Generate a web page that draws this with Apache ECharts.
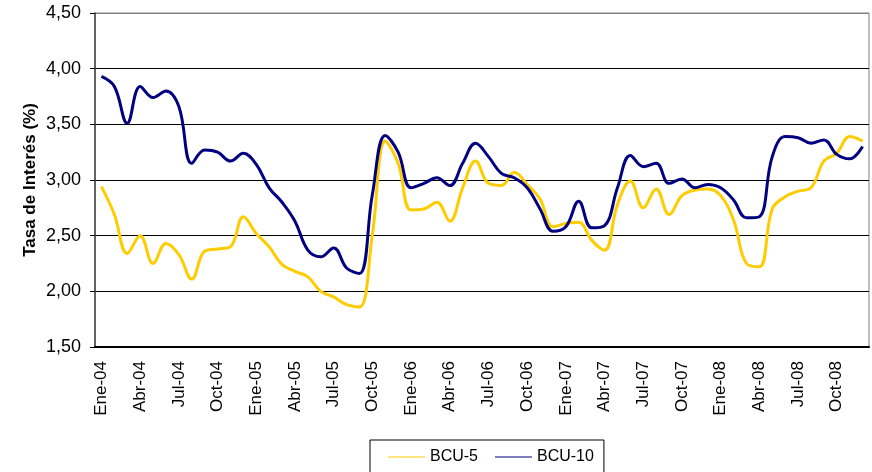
<!DOCTYPE html>
<html>
<head>
<meta charset="utf-8">
<script src="https://cdn.jsdelivr.net/npm/echarts@6/dist/echarts.min.js"></script>
<style>
  html, body { margin: 0; padding: 0; background: #fff; }
  #chart { width: 872px; height: 472px; }
</style>
</head>
<body>
<div id="chart"></div>
<script>
// months and years for the category axis
const monthNames = ['Ene', 'Feb', 'Mar', 'Abr', 'May', 'Jun', 'Jul', 'Ago', 'Sep', 'Oct', 'Nov', 'Dic'];
const years = ['04', '05', '06', '07', '08'];

// BCU-5 rates (%)
const bcu5 = [
  2.94, 2.69, 2.34, 2.50, 2.25, 2.43, 2.33, 2.11, 2.36, 2.38, 2.40, 2.67,
  2.52, 2.40, 2.24, 2.18, 2.13, 2.00, 1.95, 1.88, 1.86, 2.51, 3.35, 3.15,
  2.73, 2.74, 2.80, 2.63, 2.93, 3.17, 2.97, 2.95, 3.07, 2.96, 2.83, 2.58,
  2.61, 2.62, 2.46, 2.37, 2.78, 2.99, 2.75, 2.92, 2.69, 2.86, 2.91, 2.92,
  2.86, 2.64, 2.25, 2.22, 2.74, 2.85, 2.90, 2.93, 3.17, 3.24, 3.39, 3.35
];
// BCU-10 rates (%)
const bcu10 = [
  3.93, 3.84, 3.51, 3.84, 3.74, 3.80, 3.66, 3.15, 3.27, 3.25, 3.17, 3.24,
  3.14, 2.93, 2.80, 2.63, 2.37, 2.31, 2.39, 2.21, 2.16, 2.87, 3.40, 3.25,
  2.93, 2.97, 3.02, 2.95, 3.15, 3.33, 3.21, 3.06, 3.02, 2.93, 2.74, 2.54,
  2.58, 2.81, 2.57, 2.59, 2.93, 3.22, 3.12, 3.15, 2.97, 3.01, 2.93, 2.96,
  2.93, 2.82, 2.66, 2.67, 3.21, 3.39, 3.38, 3.33, 3.36, 3.23, 3.19, 3.30
];

const categories = [];
years.forEach(y => monthNames.forEach(m => categories.push(m + '-' + y)));

const font = 'Liberation Sans, Arial, sans-serif';

const renderChart = () => {
  var myChart = echarts.init(document.getElementById('chart'), null, { renderer: 'canvas' });

  var option = {
    animation: false,
    backgroundColor: '#fff',
    textStyle: { fontFamily: font },
    grid: {
      left: 95, right: 3, top: 13, bottom: 125,
      show: true,
      borderColor: '#808080',
      borderWidth: 1
    },
    // thin line samples, no markers, boxed like the original
    legend: {
      left: 370,
      top: 440,
      padding: [9, 10, 20, 18],
      icon: 'rect',
      itemWidth: 37,
      itemHeight: 1,
      itemGap: 17,
      backgroundColor: '#fff',
      borderColor: '#000',
      borderWidth: 1,
      borderRadius: 0,
      textStyle: { fontFamily: font, fontSize: 16, color: '#000' },
      data: ['BCU-5', 'BCU-10']
    },
    xAxis: {
      type: 'category',
      data: categories,
      boundaryGap: true,
      axisLine: { lineStyle: { color: '#000', width: 2 } },
      axisTick: { interval: 2, length: 5, lineStyle: { color: '#000', width: 1 } },
      axisLabel: {
        interval: 2,
        rotate: 90,
        margin: 14,
        fontFamily: font,
        fontSize: 17,
        color: '#000'
      },
      splitLine: { show: false }
    },
    yAxis: {
      type: 'value',
      min: 1.5,
      max: 4.5,
      interval: 0.5,
      name: 'Tasa de Interés (%)',
      nameLocation: 'middle',
      nameGap: 56,
      nameMoveOverlap: false,
      nameRotate: 90,
      nameTextStyle: { fontFamily: font, fontSize: 17, fontWeight: 'bold', color: '#000' },
      axisLine: { show: true, lineStyle: { color: '#444', width: 1.5 } },
      axisTick: { show: true, length: 5, lineStyle: { color: '#000' } },
      axisLabel: {
        margin: 14,
        fontFamily: font,
        fontSize: 18,
        color: '#000',
        formatter: v => v.toFixed(2).replace('.', ',')
      },
      splitLine: {
        lineStyle: {
          color: ['#000', '#000', '#000', '#000', '#000', '#000', '#808080'],
          width: 1.2
        }
      }
    },
    series: [
      {
        name: 'BCU-5',
        type: 'line',
        data: bcu5,
        smooth: 0.4,
        symbol: 'none',
        color: '#FFCC00',
        lineStyle: { color: '#FFCC00', width: 3 }
      },
      {
        name: 'BCU-10',
        type: 'line',
        data: bcu10,
        smooth: 0.4,
        symbol: 'none',
        color: '#000080',
        lineStyle: { color: '#000080', width: 3 }
      }
    ]
  };

  myChart.setOption(option);
};

document.addEventListener('DOMContentLoaded', renderChart);
</script>
</body>
</html>
